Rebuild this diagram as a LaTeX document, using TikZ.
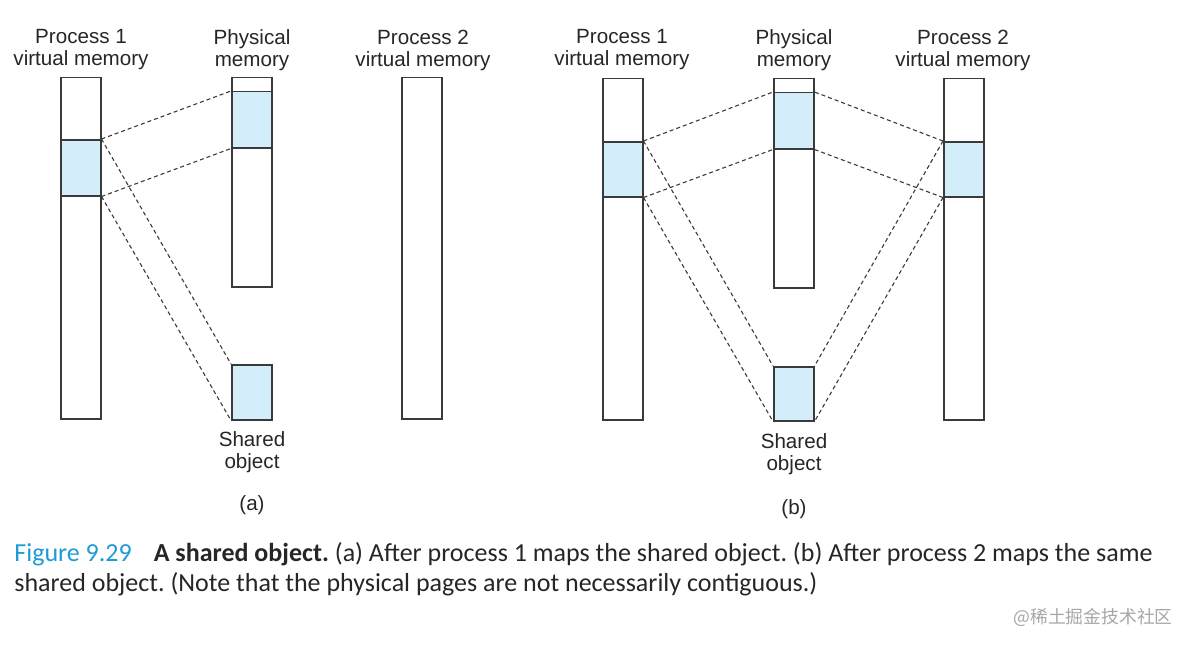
\documentclass[tikz,border=0pt]{standalone}
\usepackage{fontspec}
\setmainfont{Liberation Sans}
\newfontfamily\capfont{Carlito}
\newfontfamily\cjkfont{Noto Sans CJK SC}
\definecolor{pagefill}{HTML}{D4EDFA}
\definecolor{boxline}{HTML}{3A3A3A}
\definecolor{figblue}{HTML}{1E9BD7}
\begin{document}
\frenchspacing
\begin{tikzpicture}[x=0.5pt, y=-0.5pt,
      colbox/.style={draw=boxline, line width=0.75pt, anchor=north west, minimum width=20pt, inner sep=0pt},
      pagebox/.style={colbox, fill=pagefill},
      memlabel/.style={align=center, font=\fontsize{10.3}{11}\selectfont, text=black!85},
      mapline/.style={dash pattern=on 2pt off 1.5pt, line width=0.55pt, draw=boxline}
    ]
      \useasboundingbox (0,0) rectangle (1193,647);

      % (a)
      \node[colbox, minimum height=170.5pt] (vm1a) at (60,77) {};
      \node[pagebox, minimum height=28pt] (pg1a) at (60,139) {};
      \node[colbox, minimum height=104.5pt] (phya) at (231,77) {};
      \node[pagebox, minimum height=28pt] (ppga) at (231,91) {};
      \node[pagebox, minimum height=27.5pt] (shoa) at (231,364) {};
      \node[colbox, minimum height=170.5pt] (vm2a) at (401,77) {};

      \node[memlabel] (t1a) at (81,50) {Process 1\\virtual memory};
      \node[memlabel] (tpa) at (252,50) {Physical\\memory};
      \node[memlabel] (t2a) at (423,50) {Process 2\\virtual memory};
      \node[memlabel] (tsa) at (252,452) {Shared\\object};
      \node[memlabel] (ca) at (252,505) {(a)};

      \draw[mapline] (pg1a.north east) -- (ppga.north west);
      \draw[mapline] (pg1a.south east) -- (ppga.south west);
      \draw[mapline] (pg1a.north east) -- (shoa.north west);
      \draw[mapline] (pg1a.south east) -- (shoa.south west);

      % (b)
      \node[colbox, minimum height=170.5pt] (vm1b) at (602,78) {};
      \node[pagebox, minimum height=27.5pt] (pg1b) at (602,141) {};
      \node[colbox, minimum height=104.5pt] (phyb) at (773,78) {};
      \node[pagebox, minimum height=28pt] (ppgb) at (773,92) {};
      \node[pagebox, minimum height=27pt] (shob) at (773,366) {};
      \node[colbox, minimum height=170.5pt] (vm2b) at (943,78) {};
      \node[pagebox, minimum height=27.5pt] (pg2b) at (943,141) {};

      \node[memlabel] (t1b) at (622,50) {Process 1\\virtual memory};
      \node[memlabel] (tpb) at (794,50) {Physical\\memory};
      \node[memlabel] (t2b) at (963,50) {Process 2\\virtual memory};
      \node[memlabel] (tsb) at (794,454) {Shared\\object};
      \node[memlabel] (cb) at (794,509) {(b)};

      \draw[mapline] (pg1b.north east) -- (ppgb.north west);
      \draw[mapline] (pg1b.south east) -- (ppgb.south west);
      \draw[mapline] (pg1b.north east) -- (shob.north west);
      \draw[mapline] (pg1b.south east) -- (shob.south west);
      \draw[mapline] (pg2b.north west) -- (ppgb.north east);
      \draw[mapline] (pg2b.south west) -- (ppgb.south east);
      \draw[mapline] (pg2b.north west) -- (shob.north east);
      \draw[mapline] (pg2b.south west) -- (shob.south east);

      \node[anchor=west, align=left, inner sep=0pt, font=\capfont\fontsize{13}{15}\selectfont, text=black!85] (caption) at (14,569)
        {{\color{figblue}Figure 9.29}\hspace{11pt}\textbf{A shared object.} (a) After process 1 maps the shared object. (b) After process 2 maps the same\\
         shared object. (Note that the physical pages are not necessarily contiguous.)};
      \node[font=\cjkfont\fontsize{8.9}{9}\selectfont, text=black!35] (mark) at (1093,617) {@稀土掘金技术社区};
    \end{tikzpicture}
\end{document}
